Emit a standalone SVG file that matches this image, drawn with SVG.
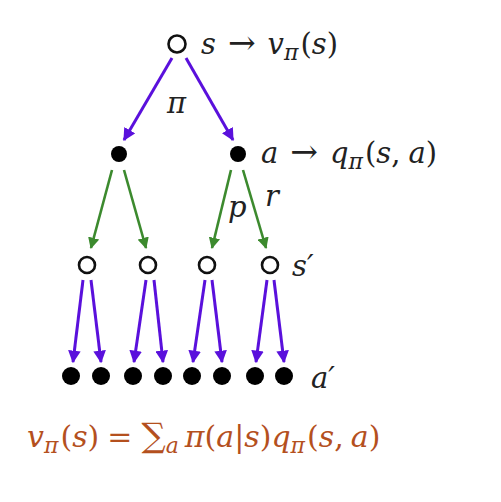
<svg xmlns="http://www.w3.org/2000/svg" width="501" height="502" viewBox="0 0 501 502">
<style>
.t{font-family:"DejaVu Serif","Liberation Serif",serif;font-size:29px;fill:#222}
.i{font-style:italic}
.sub{font-size:22px}
.ar{font-size:33px}
.open{fill:#fff;stroke:#111;stroke-width:2.6}
.dot{fill:#000}
.pu{stroke:#5a10dc;stroke-width:3;fill:none}
.gr{stroke:#3c8a2e;stroke-width:2.6;fill:none}
.f{font-family:"DejaVu Serif","Liberation Serif",serif;font-size:30px;fill:#b4501e}
.big{font-size:34px}
</style>
<defs>
<marker id="ap" viewBox="0 0 10 10" refX="9" refY="5" markerWidth="4.2" markerHeight="4.2" orient="auto" markerUnits="strokeWidth"><path d="M0,0L10,5L0,10z" fill="#5a10dc"/></marker>
<marker id="ag" viewBox="0 0 10 10" refX="9" refY="5" markerWidth="4.4" markerHeight="4.4" orient="auto" markerUnits="strokeWidth"><path d="M0,0L10,5L0,10z" fill="#3c8a2e"/></marker>
</defs>
<rect width="501" height="502" fill="#fff"/>
<g id="connectors">
<line class="pu" x1="172" y1="58" x2="124" y2="140" marker-end="url(#ap)"/>
<line class="pu" x1="186" y1="58" x2="233" y2="140" marker-end="url(#ap)"/>
<line class="gr" x1="112" y1="170" x2="91" y2="248" marker-end="url(#ag)"/>
<line class="gr" x1="124" y1="170" x2="146" y2="248" marker-end="url(#ag)"/>
<line class="gr" x1="231" y1="170" x2="212" y2="248" marker-end="url(#ag)"/>
<line class="gr" x1="243" y1="170" x2="266" y2="248" marker-end="url(#ag)"/>
<line class="pu" x1="83" y1="280" x2="73" y2="362" marker-end="url(#ap)"/>
<line class="pu" x1="91" y1="280" x2="101" y2="362" marker-end="url(#ap)"/>
<line class="pu" x1="146" y1="280" x2="134" y2="362" marker-end="url(#ap)"/>
<line class="pu" x1="154" y1="280" x2="163" y2="362" marker-end="url(#ap)"/>
<line class="pu" x1="205" y1="280" x2="193" y2="362" marker-end="url(#ap)"/>
<line class="pu" x1="212" y1="280" x2="222" y2="362" marker-end="url(#ap)"/>
<line class="pu" x1="267" y1="280" x2="256" y2="362" marker-end="url(#ap)"/>
<line class="pu" x1="274" y1="280" x2="284" y2="362" marker-end="url(#ap)"/>
<text class="t i" x="167" y="113">π</text>
<text class="t i" x="228" y="217">p</text>
<text class="t i" x="265" y="206">r</text>
</g>
<g id="n-s">
<circle class="open" cx="177" cy="44" r="8.5"/>
<text class="t" x="201" y="54"><tspan class="i">s</tspan><tspan class="ar" dx="12">→</tspan><tspan class="i" dx="12">v</tspan><tspan class="i sub" dy="6">π</tspan><tspan dy="-6" dx="2">(</tspan><tspan class="i">s</tspan>)</text>
</g>
<g id="n-a1"><circle class="dot" cx="119" cy="154" r="8"/></g>
<g id="n-a2">
<circle class="dot" cx="238" cy="154" r="8"/>
<text class="t" x="261" y="163"><tspan class="i">a</tspan><tspan class="ar" dx="12">→</tspan><tspan class="i" dx="12">q</tspan><tspan class="i sub" dy="6">π</tspan><tspan dy="-6" dx="2">(</tspan><tspan class="i">s</tspan>,<tspan class="i" dx="8">a</tspan>)</text>
</g>
<g id="n-s1"><circle class="open" cx="87" cy="265" r="8"/></g>
<g id="n-s2"><circle class="open" cx="148" cy="265" r="8"/></g>
<g id="n-s3"><circle class="open" cx="207" cy="265" r="8"/></g>
<g id="n-s4">
<circle class="open" cx="270" cy="265" r="8"/>
<text class="t i" x="292" y="276">s′</text>
</g>
<g id="n-leaves">
<circle class="dot" cx="71" cy="376" r="9"/>
<circle class="dot" cx="101" cy="376" r="9"/>
<circle class="dot" cx="133" cy="376" r="9"/>
<circle class="dot" cx="163" cy="376" r="9"/>
<circle class="dot" cx="192" cy="376" r="9"/>
<circle class="dot" cx="222" cy="376" r="9"/>
<circle class="dot" cx="255" cy="376" r="9"/>
<circle class="dot" cx="284" cy="376" r="9"/>
<text class="t i" x="311" y="388">a′</text>
</g>
<g id="formula">
<text class="f" x="27" y="447"><tspan class="i">v</tspan><tspan class="i sub" dy="6">π</tspan><tspan dy="-6" dx="2">(</tspan><tspan class="i">s</tspan>)<tspan dx="8">=</tspan><tspan class="big" dx="9">∑</tspan><tspan class="i sub" dy="6">a</tspan><tspan class="i" dy="-6" dx="6">π</tspan>(<tspan class="i">a</tspan>|<tspan class="i">s</tspan>)<tspan class="i">q</tspan><tspan class="i sub" dy="6">π</tspan><tspan dy="-6" dx="2">(</tspan><tspan class="i">s</tspan>,<tspan class="i" dx="7">a</tspan>)</text>
</g>
</svg>
